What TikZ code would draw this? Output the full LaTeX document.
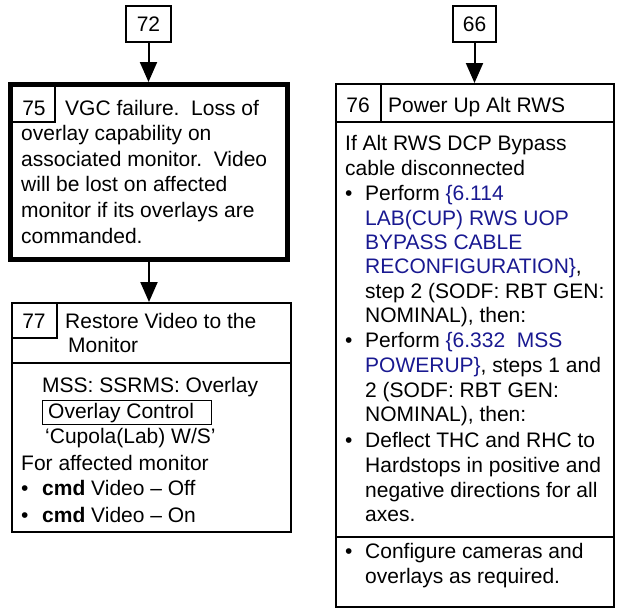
\documentclass[tikz,border=0pt]{standalone}
\usepackage{fontspec}
\setmainfont{Liberation Sans}
\usetikzlibrary{arrows.meta}
\definecolor{linkblue}{RGB}{25,25,145}
\begin{document}
\begin{tikzpicture}[x=1pt,y=1pt,
  every node/.style={font=\fontsize{21}{25}\selectfont},
  tl/.style={anchor=base west,inner sep=0pt},
  tc/.style={anchor=base,inner sep=0pt},
  frame/.style={draw,line width=2pt,inner sep=0pt},
  thin/.style={line width=1.5pt},
  rule/.style={line width=2pt},
  arr/.style={line width=2pt,-{Triangle[length=20pt,width=17pt]}}]
\useasboundingbox (0,0) rectangle (621,-613);

% ---------- top reference boxes ----------
\node[frame,minimum width=45pt,minimum height=36pt] (b72) at (148.5,-24) {72};
\node[frame,minimum width=43pt,minimum height=36pt] (b66) at (474.5,-24) {66};

% ---------- box 75 ----------
\draw[thin] (55,-84.5) -- (55,-122) -- (10.5,-122);
\node[draw,line width=5pt,inner sep=0pt,minimum width=277pt,minimum height=175pt] (b75) at (149,-172) {};
\node[tc] (n75) at (34,-115) {75};
\node[tl] (t75a) at (65,-115) {VGC failure.~~Loss of};
\node[tl] (t75b) at (21,-140.5) {overlay capability on};
\node[tl] (t75c) at (21,-166) {associated monitor.~~Video};
\node[tl] (t75d) at (21,-191.5) {will be lost on affected};
\node[tl] (t75e) at (21,-217) {monitor if its overlays are};
\node[tl] (t75f) at (21,-243) {commanded.};

% ---------- box 77 ----------
\node[frame,minimum width=279pt,minimum height=229pt] (b77) at (151.5,-417.5) {};
\draw[rule] (b77.west |- 0,-363) -- (b77.east |- 0,-363);
\draw[thin] (57,-303) -- (57,-338) -- (12,-338);
\node[tc] (n77) at (34,-328) {77};
\node[tl] (t77a) at (65,-328) {Restore Video to the};
\node[tl] (t77b) at (68,-352) {Monitor};
\node[tl] (t77c) at (42,-392) {MSS: SSRMS: Overlay};
\node[draw,thin,inner sep=0pt,minimum width=169pt,minimum height=24pt] (oc) at (127,-412.5) {};
\node[tl] (t77d) at (48,-418) {Overlay Control};
\node[tl] (t77e) at (45,-443) {‘Cupola(Lab) W/S’};
\node[tl] (t77f) at (21,-470) {For affected monitor};
\node[tl] (t77g) at (21,-495) {•};
\node[tl] (t77h) at (42,-495) {\textbf{cmd} Video – Off};
\node[tl] (t77i) at (21,-522) {•};
\node[tl] (t77j) at (42,-522) {\textbf{cmd} Video – On};

% ---------- box 76 ----------
\node[frame,minimum width=278pt,minimum height=523pt] (b76) at (475,-345.5) {};
\draw[rule] (b76.west |- 0,-122) -- (b76.east |- 0,-122);
\draw[rule] (381,-84) -- (381,-122);
\draw[rule] (b76.west |- 0,-537) -- (b76.east |- 0,-537);
\node[tc] (n76) at (358,-112) {76};
\node[tl] (h76) at (388,-112) {Power Up Alt RWS};
\node[tl] (r1) at (345,-150) {If Alt RWS DCP Bypass};
\node[tl] (r2) at (345,-175) {cable disconnected};
\node[tl] (r3b) at (345,-200) {•};
\node[tl] (r3) at (365,-200) {Perform \textcolor{linkblue}{\{6.114}};
\node[tl] (r4) at (365,-225) {\textcolor{linkblue}{LAB(CUP) RWS UOP}};
\node[tl] (r5) at (365,-249) {\textcolor{linkblue}{BYPASS CABLE}};
\node[tl] (r6) at (365,-273) {\textcolor{linkblue}{RECONFIGURATION\}},};
\node[tl] (r7) at (365,-298) {step 2 (SODF: RBT GEN:};
\node[tl] (r8) at (365,-322) {NOMINAL), then:};
\node[tl] (r9b) at (345,-347) {•};
\node[tl] (r9) at (365,-347) {Perform \textcolor{linkblue}{\{6.332~~MSS}};
\node[tl] (r10) at (365,-372) {\textcolor{linkblue}{POWERUP\}}, steps 1 and};
\node[tl] (r11) at (365,-397) {2 (SODF: RBT GEN:};
\node[tl] (r12) at (365,-421) {NOMINAL), then:};
\node[tl] (r13b) at (345,-447) {•};
\node[tl] (r13) at (365,-447) {Deflect THC and RHC to};
\node[tl] (r14) at (365,-472) {Hardstops in positive and};
\node[tl] (r15) at (365,-497) {negative directions for all};
\node[tl] (r16) at (365,-521) {axes.};
\node[tl] (r17b) at (345,-558) {•};
\node[tl] (r17) at (365,-558) {Configure cameras and};
\node[tl] (r18) at (365,-583) {overlays as required.};

% ---------- connectors ----------
\draw[arr] (b72.south) -- (b72.south |- b75.north);
\draw[arr] (b75.south) -- (b75.south |- b77.north);
\draw[arr] (b66.south) -- (b66.south |- b76.north);
\end{tikzpicture}
\end{document}
